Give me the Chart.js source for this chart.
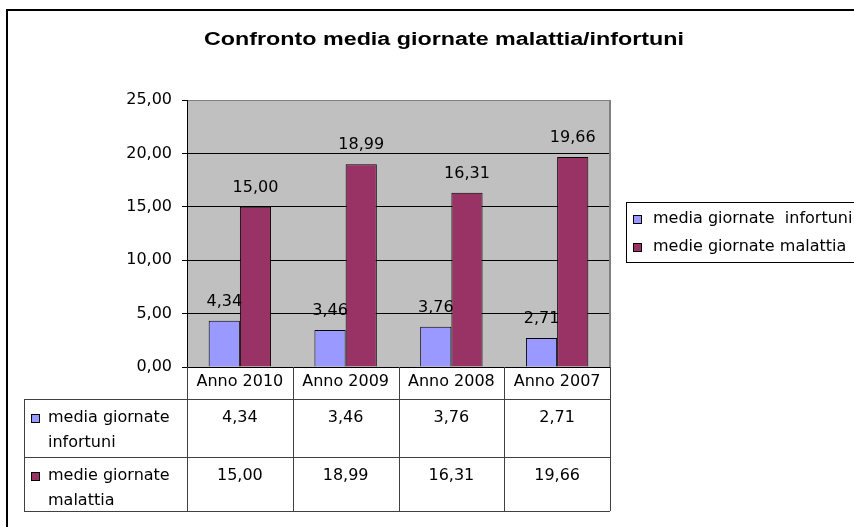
<!DOCTYPE html>
<html>
<head>
<meta charset="utf-8">
<script src="https://cdn.jsdelivr.net/npm/chart.js@4.4.0/dist/chart.umd.min.js"></script>
<style>
  html, body { margin: 0; padding: 0; background: #fff; }
  #wrap { width: 854px; height: 527px; }
</style>
</head>
<body>
<div id="wrap"><canvas id="chart" width="854" height="527"></canvas></div>
<script>
const categories = ["Anno 2010", "Anno 2009", "Anno 2008", "Anno 2007"];
const infortuni = [4.34, 3.46, 3.76, 2.71];
const malattia = [15.00, 18.99, 16.31, 19.66];
const seriesNames = ["media giornate  infortuni", "medie giornate malattia"];
const tableNames = [["media giornate", "infortuni"], ["medie giornate", "malattia"]];
const colors = ["#9999FF", "#993366"];
const yMax = 25;
const yStep = 5;

const FONT = "DejaVu Sans, Liberation Sans, Arial, sans-serif";
const fmt = v => v.toFixed(2).replace(".", ",");

// grey plot background + right border
const plotArea = {
  id: "plotArea",
  beforeDraw(chart) {
    const { ctx, chartArea: a } = chart;
    ctx.save();
    ctx.fillStyle = "#C0C0C0";
    ctx.fillRect(a.left, a.top, a.right - a.left, a.bottom - a.top);
    ctx.restore();
  },
  afterDraw(chart) {
    const { ctx, chartArea: a } = chart;
    ctx.save();
    ctx.strokeStyle = "#808080";
    ctx.lineWidth = 2;
    ctx.beginPath();
    ctx.moveTo(a.right, a.top);
    ctx.lineTo(a.right, a.bottom);
    ctx.stroke();
    ctx.restore();
  }
};

// value labels over the bars
const barValues = {
  id: "barValues",
  afterDatasetsDraw(chart) {
    const { ctx } = chart;
    ctx.save();
    ctx.font = "16px " + FONT;
    ctx.fillStyle = "#000";
    ctx.textAlign = "center";
    ctx.textBaseline = "alphabetic";
    chart.data.datasets.forEach((ds, i) => {
      chart.getDatasetMeta(i).data.forEach((bar, j) => {
        ctx.fillText(fmt(ds.data[j]), bar.x, bar.y - 15);
      });
    });
    ctx.restore();
  }
};

// title, outer frame, legend and data table
const decor = {
  id: "decor",
  afterDraw(chart) {
    const { ctx, chartArea: a } = chart;
    const x = chart.scales.x;
    ctx.save();

    // outer frame
    ctx.strokeStyle = "#000";
    ctx.lineWidth = 2;
    ctx.beginPath();
    ctx.moveTo(7, 527);
    ctx.lineTo(7, 10);
    ctx.lineTo(854, 10);
    ctx.stroke();

    // title, widened Arial bold
    const title = "Confronto media giornate malattia/infortuni";
    ctx.fillStyle = "#000";
    ctx.font = "bold 18px Liberation Sans, Arial, sans-serif";
    ctx.textAlign = "center";
    ctx.textBaseline = "middle";
    const sx = 480 / ctx.measureText(title).width;
    ctx.save();
    ctx.translate(444, 40);
    ctx.scale(sx, 1);
    ctx.fillText(title, 0, 0);
    ctx.restore();

    // legend
    ctx.lineWidth = 1;
    ctx.strokeStyle = "#000";
    ctx.strokeRect(626.5, 202.5, 240, 60);
    ctx.font = "16px " + FONT;
    ctx.textAlign = "left";
    seriesNames.forEach((name, i) => {
      const cy = 219 + i * 28;
      ctx.fillStyle = colors[i];
      ctx.fillRect(633, cy - 4, 9, 9);
      ctx.strokeRect(633.5, cy - 3.5, 8, 8);
      ctx.fillStyle = "#000";
      ctx.fillText(name, 653, cy);
    });

    // data table
    const left = 24, top = a.bottom, hdr = top + 32, r1 = hdr + 58, bottom = r1 + 54;
    const step = (a.right - a.left) / categories.length;
    ctx.strokeStyle = "#404040";
    ctx.lineWidth = 1;
    ctx.beginPath();
    ctx.moveTo(left, hdr + 0.5); ctx.lineTo(a.right, hdr + 0.5);
    ctx.moveTo(left, r1 + 0.5); ctx.lineTo(a.right, r1 + 0.5);
    ctx.moveTo(left, bottom + 0.5); ctx.lineTo(a.right, bottom + 0.5);
    ctx.moveTo(left + 0.5, hdr); ctx.lineTo(left + 0.5, bottom);
    for (let k = 0; k <= categories.length; k++) {
      const cx = Math.round(a.left + k * step) + 0.5;
      ctx.moveTo(cx, top); ctx.lineTo(cx, bottom);
    }
    ctx.stroke();

    ctx.fillStyle = "#000";
    ctx.textAlign = "center";
    categories.forEach((c, j) => {
      ctx.fillText(c, x.getPixelForValue(j), top + 15);
    });

    const rows = [infortuni, malattia];
    const rowTops = [hdr, r1];
    rows.forEach((vals, i) => {
      const y1 = rowTops[i] + 19, y2 = rowTops[i] + 44;
      ctx.fillStyle = colors[i];
      ctx.fillRect(31, y1 - 4, 9, 9);
      ctx.strokeStyle = "#000";
      ctx.strokeRect(31.5, y1 - 3.5, 8, 8);
      ctx.fillStyle = "#000";
      ctx.textAlign = "left";
      ctx.fillText(tableNames[i][0], 48, y1);
      ctx.fillText(tableNames[i][1], 48, y2);
      ctx.textAlign = "center";
      vals.forEach((v, j) => ctx.fillText(fmt(v), x.getPixelForValue(j), y1));
    });

    ctx.restore();
  }
};

new Chart(document.getElementById("chart"), {
  type: "bar",
  data: {
    labels: categories,
    datasets: [
      { label: seriesNames[0], data: infortuni, backgroundColor: colors[0], borderColor: "#000", borderWidth: 1 },
      { label: seriesNames[1], data: malattia, backgroundColor: colors[1], borderColor: "#000", borderWidth: 1 }
    ]
  },
  options: {
    responsive: false,
    animation: false,
    devicePixelRatio: 1,
    layout: { padding: { left: 0, right: 244, top: 100, bottom: 160 } },
    datasets: { bar: { categoryPercentage: 0.59, barPercentage: 1 } },
    plugins: { legend: { display: false }, title: { display: false }, tooltip: { enabled: false } },
    scales: {
      x: {
        grid: { display: false },
        border: { display: true, color: "#000", width: 1 },
        ticks: { display: false },
        afterFit: s => { s.height = 0; }
      },
      y: {
        min: 0,
        max: yMax,
        ticks: {
          stepSize: yStep,
          padding: 10,
          color: "#000",
          font: { family: FONT, size: 16 },
          callback: v => fmt(v)
        },
        grid: {
          color: c => (c.tick && c.tick.value === yMax ? "#808080" : "#000"),
          tickLength: 5,
          tickColor: "#000"
        },
        border: { display: true, color: "#000", width: 1 },
        afterFit: s => { s.width = 187; }
      }
    }
  },
  plugins: [plotArea, barValues, decor]
});
</script>
</body>
</html>
